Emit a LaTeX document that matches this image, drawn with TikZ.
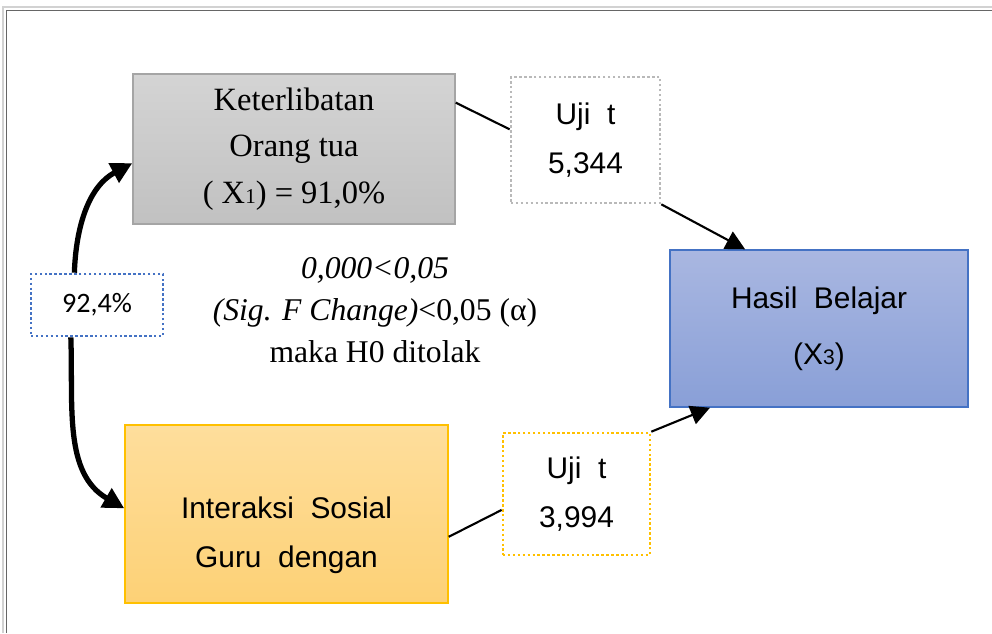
\documentclass[tikz,border=0pt]{standalone}
\usepackage{fontspec}
\setmainfont{Liberation Serif}
\setsansfont{Liberation Sans}
\newfontfamily\calibri{Carlito}
\usetikzlibrary{arrows.meta, positioning, calc}
\definecolor{GrayTop}{RGB}{212,212,212}
\definecolor{GrayBot}{RGB}{193,193,193}
\definecolor{GrayEdge}{RGB}{165,165,165}
\definecolor{GoldTop}{RGB}{254,222,156}
\definecolor{GoldBot}{RGB}{253,209,118}
\definecolor{GoldEdge}{RGB}{255,192,0}
\definecolor{BlueTop}{RGB}{169,183,225}
\definecolor{BlueBot}{RGB}{137,159,215}
\definecolor{BlueEdge}{RGB}{68,114,196}

\begin{document}
\begin{tikzpicture}[
          varbox/.style={rectangle, line width=0.8pt, inner sep=0pt},
          dots/.style={dash pattern=on 1.4pt off 1.4pt, line width=1.5pt},
          ujibox/.style={rectangle, dots, fill=white, align=center, inner sep=0pt,
                         font=\sffamily\fontsize{17}{28}\selectfont},
          link/.style={line width=1.2pt},
          arr/.style={link, -{Triangle[length=11pt,width=11pt]}},
          corr/.style={line width=3pt, -{Triangle[length=12pt,width=12pt]}}
        ]
        \useasboundingbox (0,0) rectangle (19.84,-12.66);
        % frame
        \draw[gray!35, line width=0.6pt] (0.06,-12.66) -- (0.06,-0.14) -- (19.84,-0.14);
        \draw[gray!80!black, line width=1pt] (0.13,-12.66) -- (0.13,-0.21) -- (19.84,-0.21);

        % Variables
        \node[varbox, draw=GrayEdge, top color=GrayTop, bottom color=GrayBot,
              minimum width=6.44cm, minimum height=3.0cm, align=center,
              font=\fontsize{18.5}{26.5}\selectfont] (ortu) at (5.88,-2.98)
              {Keterlibatan\\Orang tua\\( X{\fontsize{12}{12}\selectfont 1}) = 91,0\%};
        \node[varbox, draw=GoldEdge, top color=GoldTop, bottom color=GoldBot,
              minimum width=6.46cm, minimum height=3.56cm] (sosial) at (5.73,-10.28) {};
        \node[align=center, font=\sffamily\fontsize{17}{28}\selectfont]
              (sosialtext) at (5.73,-10.71) {Interaksi\ \ Sosial\\Guru\ \ dengan};
        \node[varbox, draw=BlueEdge, top color=BlueTop, bottom color=BlueBot,
              minimum width=5.96cm, minimum height=3.14cm, align=center,
              font=\sffamily\fontsize{17}{32}\selectfont] (hasil) at (16.38,-6.57)
              {Hasil\ \ Belajar\\(X{\fontsize{12}{12}\selectfont 3})};

        % t tests
        \node[ujibox, draw=gray!55, minimum width=2.98cm, minimum height=2.52cm]
              (ujiA) at (11.71,-2.8) {Uji\ \ t\\5,344};
        \node[ujibox, draw=GoldEdge, minimum width=2.94cm, minimum height=2.44cm]
              (ujiB) at (11.53,-9.88) {Uji\ \ t\\3,994};

        % correlation
        \node[rectangle, dots, draw=BlueEdge, fill=white,
              minimum width=2.64cm, minimum height=1.24cm,
              font=\calibri\fontsize{16}{16}\selectfont] (kor) at (1.94,-6.1) {92,4\%};

        % F test
        \node[align=center, font=\fontsize{18}{24}\selectfont] (uji_f) at (7.5,-6.2)
              {\textit{0,000<0,05}\\\textit{(Sig. F Change)}<0,05 (α)\\maka H0 ditolak};

        % Paths
        \draw[link] (ortu.16) -- (ujiA.172);
        \draw[arr] (ujiA.south east) -- (hasil.133);
        \draw[link] (sosial.-8) -- (ujiB.192);
        \draw[arr] (ujiB.north east) -- (hasil.216);
        \draw[corr] (kor.125) to[out=88,in=208] (ortu.185);
        \draw[corr] (kor.231) to[out=-88,in=150] (sosial.178);
      \end{tikzpicture}
\end{document}
